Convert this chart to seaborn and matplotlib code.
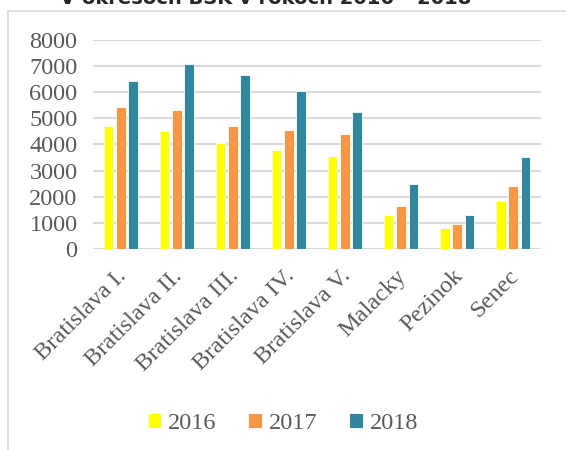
import pandas as pd
import matplotlib.pyplot as plt
import matplotlib.transforms as mtransforms
import seaborn as sns
from matplotlib.patches import Rectangle

# údaje z grafu
okresy = ['Bratislava I.', 'Bratislava II.', 'Bratislava III.', 'Bratislava IV.',
          'Bratislava V.', 'Malacky', 'Pezinok', 'Senec']
roky = ['2016', '2017', '2018']
hodnoty_2016 = [4700, 4520, 4050, 3790, 3540, 1280, 790, 1840]
hodnoty_2017 = [5450, 5310, 4710, 4560, 4390, 1640, 950, 2410]
hodnoty_2018 = [6450, 7075, 6660, 6050, 5240, 2500, 1280, 3520]
farby = ['#FFFF00', '#F79646', '#31859C']

df = pd.DataFrame({
    'okres': okresy * 3,
    'rok': [r for r in roky for _ in okresy],
    'pocet': hodnoty_2016 + hodnoty_2017 + hodnoty_2018,
})

sns.set_style('white')
plt.rcParams['font.family'] = ['Liberation Serif', 'DejaVu Serif']

fig = plt.figure(figsize=(5.66, 4.5), dpi=100)
ax = fig.add_axes([0.164, 0.447, 0.792, 0.464])

sns.barplot(data=df, x='okres', y='pocet', hue='rok', palette=farby, saturation=1,
            width=0.66, gap=0.22, edgecolor='white', linewidth=0.6, ax=ax)

ax.set_ylim(0, 8000)
ax.set_yticks(range(0, 8001, 1000))
ax.yaxis.grid(True, color='#D9D9D9', linewidth=1.5)
ax.set_axisbelow(True)
for s in ax.spines.values():
    s.set_visible(False)
ax.set_xlabel('')
ax.set_ylabel('')
ax.tick_params(axis='both', length=0, colors='#595959', labelsize=17.5)
ax.tick_params(axis='y', pad=11)
ax.tick_params(axis='x', pad=12)
posun = mtransforms.ScaledTranslation(-5 / 100, 0, fig.dpi_scale_trans)
for lbl in ax.get_xticklabels():
    lbl.set_rotation(45)
    lbl.set_ha('right')
    lbl.set_rotation_mode('anchor')
    lbl.set_transform(lbl.get_transform() + posun)

ax.legend(loc='center', bbox_to_anchor=(0.5, 0.058), bbox_transform=fig.transFigure,
          ncol=3, frameon=False, fontsize=17.5, handlelength=0.55, handleheight=0.55,
          handletextpad=0.3, columnspacing=1.3, labelcolor='#595959')

# rámček grafu (presahuje obrázok)
fig.patches.append(Rectangle((8 / 566, -0.1), 1.2, 1 - 11 / 450 + 0.1,
                             transform=fig.transFigure, fill=False,
                             edgecolor='#D9D9D9', linewidth=1.2))

# nadpis orezaný hornou hranou
fig.text(0.47, 1 - 4 / 450, 'V okresoch BSK v rokoch 2016 – 2018', ha='center',
         va='baseline', fontsize=14, fontweight='bold', family=['DejaVu Sans'])

fig.savefig('out.png', dpi=100)
